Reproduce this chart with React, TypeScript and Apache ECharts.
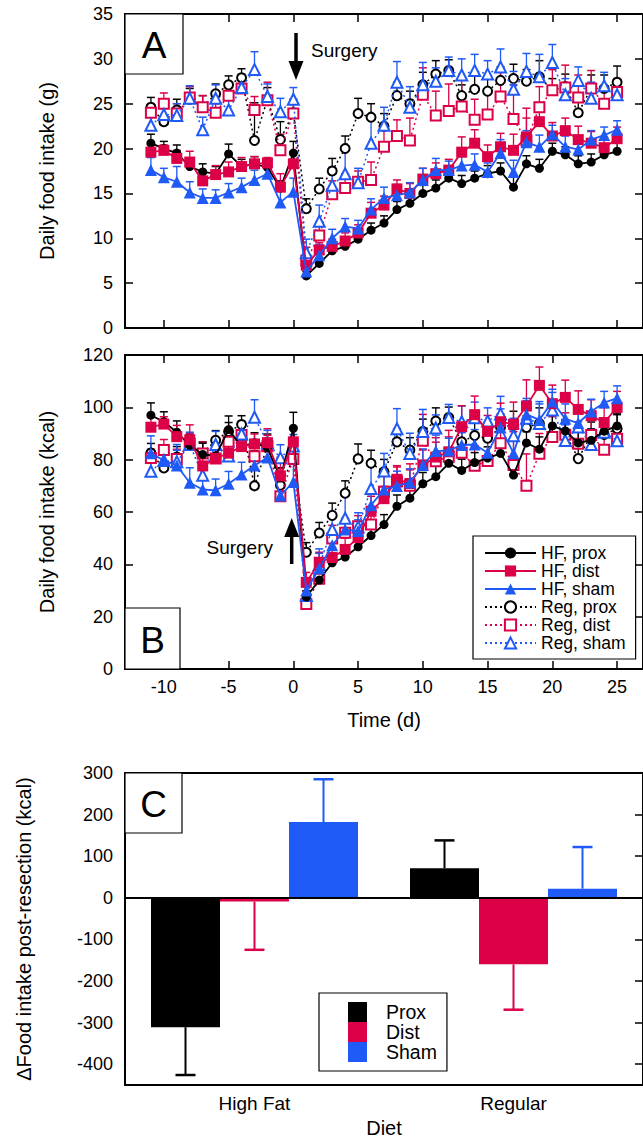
import React, { useEffect, useRef } from 'react';
import * as echarts from 'echarts';

const days = [-11,-10,-9,-8,-7,-6,-5,-4,-3,-2,-1,0,1,2,3,4,5,6,7,8,9,10,11,12,13,14,15,16,17,18,19,20,21,22,23,24,25];

// Panel A: daily intake (g)
const gHFprox = [20.6,20.0,19.5,18.0,17.4,17.2,19.4,18.0,18.3,17.9,15.6,19.5,5.8,7.2,8.6,9.1,9.9,10.9,11.7,13.2,13.9,15.0,15.6,16.7,16.1,16.7,17.2,17.5,15.7,18.3,17.8,19.7,19.3,18.3,18.5,19.3,19.7];
const gHFdist = [19.6,19.8,18.9,18.5,16.4,17.1,17.4,18.0,18.3,18.4,15.7,18.3,7.0,8.7,9.1,9.7,10.6,12.8,13.7,15.5,15.0,16.6,17.2,17.6,19.6,20.6,19.1,20.2,19.8,21.3,23.0,21.4,22.0,21.0,20.6,20.1,21.1];
const gHFsham = [17.6,16.8,16.3,15.1,14.5,14.5,15.1,15.7,16.5,17.2,14.0,15.2,6.3,8.1,10.0,11.3,11.1,13.2,14.5,14.8,15.1,16.5,17.6,17.6,18.1,18.2,17.4,19.5,17.4,20.7,20.2,21.6,20.2,19.9,21.0,21.5,22.1];
const gRegprox = [24.6,23.0,24.3,25.5,24.6,26.1,27.1,27.9,20.9,25.5,21.0,24.0,13.3,15.5,17.5,20.0,23.9,23.5,22.5,25.9,25.0,27.1,28.3,28.7,25.9,26.6,26.4,27.6,27.8,27.5,28.0,26.5,26.9,24.0,26.7,26.7,27.4];
const gRegdist = [24.0,25.0,23.9,25.7,24.6,24.0,25.9,26.7,24.3,25.4,19.8,23.9,7.5,10.3,14.9,15.6,16.3,16.5,20.2,21.4,20.9,26.0,23.7,24.2,24.7,23.2,23.8,25.8,23.3,20.9,24.6,26.5,26.8,25.7,26.7,25.0,26.3];
const gRegsham = [22.6,23.8,23.7,25.6,22.1,25.6,24.3,26.8,28.8,25.8,24.1,25.5,8.4,11.9,15.9,17.2,16.2,20.6,22.6,27.4,24.6,27.1,27.5,28.7,28.2,28.7,28.3,29.1,26.6,28.6,28.0,29.6,26.0,27.6,25.6,27.0,26.0];

const eHFprox_g = [1.0,0.8,0.9,0.8,0.9,0.8,1.1,0.8,0.8,0.6,0.8,1.3,0.5,0.6,0.6,0.7,0.7,0.8,0.8,0.9,0.8,0.9,0.9,0.9,0.9,0.8,0.9,0.9,1.2,0.9,1.0,0.9,0.9,0.9,0.9,0.9,0.9];
const eHFdist_g = [0.8,0.6,0.9,1.2,1.0,1.0,1.1,1.0,0.8,0.6,1.5,1.2,0.8,0.8,0.8,0.9,0.9,1.2,1.0,1.0,1.1,1.2,1.2,1.2,1.7,1.5,1.3,1.5,1.8,2.1,1.5,1.5,1.4,1.5,1.3,1.2,1.3];
const eHFsham_g = [1.4,1.0,1.7,1.2,1.0,0.9,1.0,1.0,1.1,1.0,1.6,1.5,0.8,1.2,1.0,0.9,0.9,1.2,1.2,1.2,1.1,1.3,1.3,1.0,1.0,1.2,1.0,1.5,1.3,1.3,1.3,1.0,1.2,1.0,1.0,0.9,1.0];
const eRegprox_g = [1.1,1.5,1.2,1.2,1.3,1.1,1.0,1.0,4.2,1.3,2.0,1.5,1.1,1.2,1.4,1.4,1.7,1.5,1.4,1.5,1.4,1.4,1.5,1.2,1.2,1.5,1.4,1.5,1.6,1.3,1.8,1.3,1.4,1.3,1.5,1.5,1.8];
const eRegdist_g = [1.0,1.2,1.1,1.2,1.3,1.0,1.3,1.4,1.5,2.0,1.8,1.2,1.5,1.5,1.5,1.6,1.2,2.0,2.0,1.8,2.5,3.0,2.7,3.0,3.0,2.3,2.6,3.0,3.8,3.6,2.3,2.3,2.5,2.5,2.0,1.5,1.5];
const eRegsham_g = [1.1,1.2,1.3,1.4,1.4,1.5,1.3,1.5,2.0,1.4,1.5,1.3,1.5,1.8,2.0,2.5,1.6,3.0,2.0,2.3,2.3,2.5,1.5,1.5,1.8,1.8,1.5,2.0,2.0,2.0,2.5,2.0,1.8,1.5,1.8,1.5,1.5];

// Panel B: daily intake (kcal)
const kHFprox = [97.0,94.5,90.5,85.5,82.0,81.5,91.5,85.0,86.5,84.5,73.0,92.0,27.5,34.0,40.6,42.8,46.7,51.0,55.2,62.2,65.3,70.8,73.5,78.6,75.9,78.9,80.6,82.4,74.1,86.4,84.0,92.9,91.0,86.4,87.4,90.9,92.9];
const kHFdist = [92.4,93.6,88.8,87.6,77.6,80.5,82.5,85.0,86.0,86.5,73.8,86.8,33.1,40.8,42.6,45.7,50.2,60.3,65.1,72.5,70.9,78.0,81.0,83.0,92.6,97.2,90.8,94.5,93.5,100.5,108.4,101.4,103.8,99.2,96.8,94.2,100.0];
const kHFsham = [82.5,79.7,77.8,71.2,68.6,68.3,70.8,74.3,77.8,80.8,66.3,71.5,30.0,38.5,47.3,53.3,52.7,62.6,68.6,69.9,71.3,78.0,83.3,83.5,85.6,85.8,82.6,92.3,82.5,97.3,95.2,102.2,95.6,94.0,98.4,101.8,103.5];
const kRegprox = [82.5,76.8,81.0,85.4,82.4,87.4,90.8,93.4,70.0,85.4,70.2,80.4,44.6,52.0,58.7,67.2,80.3,78.6,75.4,86.8,83.7,90.8,94.8,96.1,86.8,89.2,88.2,92.4,93.1,92.3,93.8,88.8,90.1,80.4,89.4,89.6,91.8];
const kRegdist = [80.6,83.7,80.3,86.1,82.4,80.4,86.8,89.4,81.3,85.1,66.0,80.3,24.8,34.5,49.9,52.1,54.6,55.2,67.7,71.7,70.0,87.2,79.4,81.1,82.6,77.7,79.5,86.3,78.0,70.0,82.3,88.7,89.5,86.1,89.4,83.8,88.0];
const kRegsham = [75.6,79.7,79.2,85.8,74.0,85.8,81.4,89.8,96.2,86.5,80.7,85.2,28.1,39.9,53.3,57.6,54.3,69.0,75.7,91.8,82.4,90.8,92.1,96.1,94.5,96.0,94.8,97.5,89.1,95.8,93.8,99.0,87.3,92.5,85.8,90.5,87.2];

const eHFprox_k = [4.7,3.8,4.3,3.8,4.3,3.8,5.2,3.8,3.8,2.8,3.8,6.1,2.4,2.8,2.8,3.3,3.3,3.8,3.8,4.3,3.8,4.3,4.3,4.3,4.3,3.8,4.3,4.3,5.7,4.3,4.7,4.3,4.3,4.3,4.3,4.3,4.3];
const eHFdist_k = [3.8,2.8,4.3,5.7,4.7,4.7,5.2,4.7,3.8,2.8,7.1,5.7,3.8,3.8,3.8,4.3,4.3,5.7,4.7,4.7,5.2,5.7,5.7,5.7,8.0,7.1,6.1,7.1,8.5,10.0,7.0,7.1,6.6,7.1,6.1,5.7,6.1];
const eHFsham_k = [6.6,4.7,8.0,5.7,4.7,4.3,4.7,4.7,5.2,4.7,7.6,7.1,3.8,5.7,4.7,4.3,4.3,5.7,5.7,5.7,5.2,6.1,6.1,4.7,4.7,5.7,4.7,7.1,6.1,6.1,6.1,4.7,5.7,4.7,4.7,4.3,4.7];
const eRegprox_k = [3.7,5.0,4.0,4.0,4.4,3.7,3.4,3.4,13.4,4.4,6.7,5.0,3.7,4.0,4.7,4.7,5.7,5.0,4.7,5.0,4.7,4.7,5.0,4.0,4.0,5.0,4.7,5.0,5.4,4.4,6.0,4.4,4.7,4.4,5.0,5.0,6.0];
const eRegdist_k = [3.4,4.0,3.7,4.0,4.4,3.4,4.4,4.7,5.0,6.7,6.0,4.0,5.0,5.0,5.0,5.4,4.0,6.7,6.7,6.0,8.4,10.1,9.0,10.1,10.1,7.7,8.7,10.1,12.7,12.2,7.7,7.7,8.4,8.4,6.7,5.0,5.0];
const eRegsham_k = [3.7,4.0,4.4,4.7,4.7,5.0,4.4,5.0,6.7,4.7,5.0,4.4,5.0,6.0,6.7,8.4,5.4,10.1,6.7,7.7,7.7,8.4,5.0,5.0,6.0,6.0,5.0,6.7,6.7,6.7,8.4,6.7,6.0,5.0,6.0,5.0,5.0];

const xTicks = [-10, -5, 0, 5, 10, 15, 20, 25];

// Panel C
const dietCats = ['High Fat', 'Regular'];
const cTicks = [-400, -300, -200, -100, 0, 100, 200, 300];
const barProx = [-311, 71];
const barDist = [-9, -160];
const barSham = [182, 22];
const errProx = [115, 67];
const errDist = [116, 109];
const errSham = [103, 100];

const BLACK = '#000000';
const RED = '#dc0046';
const BLUE = '#1f5af6';
const FONT = 'Liberation Sans';

const specs = [
  { name: 'Reg, prox', g: gRegprox, k: kRegprox, eg: eRegprox_g, ek: eRegprox_k, color: BLACK, symbol: 'emptyCircle', size: 9, dashed: true },
  { name: 'Reg, dist', g: gRegdist, k: kRegdist, eg: eRegdist_g, ek: eRegdist_k, color: RED, symbol: 'emptyRect', size: 10, dashed: true },
  { name: 'Reg, sham', g: gRegsham, k: kRegsham, eg: eRegsham_g, ek: eRegsham_k, color: BLUE, symbol: 'emptyTriangle', size: 11, dashed: true },
  { name: 'HF, prox', g: gHFprox, k: kHFprox, eg: eHFprox_g, ek: eHFprox_k, color: BLACK, symbol: 'circle', size: 9, dashed: false },
  { name: 'HF, dist', g: gHFdist, k: kHFdist, eg: eHFdist_g, ek: eHFdist_k, color: RED, symbol: 'rect', size: 11, dashed: false },
  { name: 'HF, sham', g: gHFsham, k: kHFsham, eg: eHFsham_g, ek: eHFsham_k, color: BLUE, symbol: 'triangle', size: 12, dashed: false },
];

function buildOption() {
  const series: any[] = [];
  [0, 1].forEach((gi) => {
    specs.forEach((s, si) => {
      const vals = gi === 0 ? s.g : s.k;
      const errs = gi === 0 ? s.eg : s.ek;
      const color = s.color;
      series.push({
        type: 'custom',
        name: 'err ' + s.name,
        xAxisIndex: gi * 2,
        yAxisIndex: gi * 2,
        silent: true,
        z: 2 + si * 0.01,
        encode: { x: 0, y: 1 },
        data: days.map((d, i) => [d, vals[i], errs[i]]),
        renderItem: (params: any, api: any) => {
          const p0 = api.coord([api.value(0), api.value(1)]);
          const p1 = api.coord([api.value(0), api.value(1) + api.value(2)]);
          return {
            type: 'group',
            children: [
              { type: 'line', shape: { x1: p0[0], y1: p0[1], x2: p1[0], y2: p1[1] }, style: { stroke: color, lineWidth: 1.3 } },
              { type: 'line', shape: { x1: p1[0] - 4, y1: p1[1], x2: p1[0] + 4, y2: p1[1] }, style: { stroke: color, lineWidth: 1.5 } },
            ],
          };
        },
      });
      series.push({
        type: 'line',
        name: s.name,
        xAxisIndex: gi * 2,
        yAxisIndex: gi * 2,
        data: days.map((d, i) => [d, vals[i]]),
        symbol: s.symbol,
        symbolSize: s.size,
        showSymbol: true,
        showAllSymbol: true,
        z: 3 + si * 0.1,
        lineStyle: { color, width: s.dashed ? 1.5 : 1.8, type: s.dashed ? [2, 3] : 'solid' },
        itemStyle: { color, borderColor: color, borderWidth: s.dashed ? 1.5 : 0 },
        emphasis: { disabled: true },
      });
    });
  });

  const bars = [
    { name: 'Prox', vals: barProx, errs: errProx, color: BLACK },
    { name: 'Dist', vals: barDist, errs: errDist, color: RED },
    { name: 'Sham', vals: barSham, errs: errSham, color: BLUE },
  ];
  bars.forEach((b, bi) => {
    series.push({
      type: 'bar',
      name: b.name,
      xAxisIndex: 4,
      yAxisIndex: 4,
      data: b.vals,
      barWidth: 69,
      barGap: '0%',
      itemStyle: { color: b.color },
      emphasis: { disabled: true },
      z: 2,
      markLine: bi === 0 ? {
        silent: true,
        symbol: 'none',
        label: { show: false },
        lineStyle: { color: '#000', width: 2, type: 'solid' },
        data: [{ yAxis: 0 }],
      } : undefined,
    });
    series.push({
      type: 'custom',
      name: 'err ' + b.name,
      xAxisIndex: 4,
      yAxisIndex: 4,
      silent: true,
      z: 1,
      data: dietCats.map((c, i) => [i, b.vals[i], b.errs[i]]),
      renderItem: (params: any, api: any) => {
        const i = api.value(0);
        const v = api.value(1);
        const e = api.value(2);
        const sign = v < 0 ? -1 : 1;
        const off = (bi - 1) * 69;
        const p0 = api.coord([i, v]);
        const p1 = api.coord([i, v + sign * e]);
        const x = p0[0] + off;
        return {
          type: 'group',
          children: [
            { type: 'line', shape: { x1: x, y1: p0[1], x2: x, y2: p1[1] }, style: { stroke: b.color, lineWidth: 2 } },
            { type: 'line', shape: { x1: x - 10, y1: p1[1], x2: x + 10, y2: p1[1] }, style: { stroke: b.color, lineWidth: 2.5 } },
          ],
        };
      },
    });
  });

  const axisLine = { show: true, onZero: false, lineStyle: { color: '#000', width: 2 } };
  const tickStyle = { color: '#000', width: 1.5 };
  const labelStyle = { color: '#000', fontSize: 18, fontFamily: FONT };
  const nameStyle = { color: '#000', fontSize: 20, fontFamily: FONT };

  const xValAxis = (gridIndex: number, position: string, labels: boolean, extra: any = {}) => ({
    type: 'value', gridIndex, min: -13, max: 27, position,
    axisLine, splitLine: { show: false },
    axisTick: { show: true, inside: true, length: 8, customValues: xTicks, lineStyle: tickStyle },
    axisLabel: labels ? { show: true, customValues: xTicks, margin: 9, ...labelStyle } : { show: false },
    ...extra,
  });
  const yValAxis = (gridIndex: number, position: string, max: number, interval: number, labels: boolean, extra: any = {}) => ({
    type: 'value', gridIndex, min: 0, max, interval, position,
    axisLine, splitLine: { show: false },
    axisTick: { show: true, inside: true, length: 8, lineStyle: tickStyle },
    axisLabel: labels ? { show: true, margin: 12, ...labelStyle } : { show: false },
    ...extra,
  });

  const option: any = {
    animation: false,
    backgroundColor: '#ffffff',
    textStyle: { fontFamily: FONT },
    grid: [
      { left: 125, top: 14, width: 524, height: 314 },
      { left: 125, top: 355, width: 524, height: 314 },
      { left: 125, top: 773, width: 524, height: 314 },
    ],
    xAxis: [
      xValAxis(0, 'bottom', false),
      xValAxis(0, 'top', false),
      xValAxis(1, 'bottom', true, { name: 'Time (d)', nameLocation: 'middle', nameGap: 41, nameTextStyle: nameStyle }),
      xValAxis(1, 'top', false),
      {
        type: 'category', gridIndex: 2, data: dietCats, position: 'bottom',
        axisLine, axisTick: { show: false },
        axisLabel: { show: true, margin: 9, ...labelStyle, fontSize: 19 },
        name: 'Diet', nameLocation: 'middle', nameGap: 33, nameTextStyle: nameStyle,
      },
      {
        type: 'category', gridIndex: 2, data: dietCats, position: 'top',
        axisLine, axisTick: { show: false }, axisLabel: { show: false },
      },
    ],
    yAxis: [
      yValAxis(0, 'left', 35, 5, true, { name: 'Daily food intake (g)', nameLocation: 'middle', nameGap: 68, nameTextStyle: nameStyle }),
      yValAxis(0, 'right', 35, 5, false),
      yValAxis(1, 'left', 120, 20, true, { name: 'Daily food intake (kcal)', nameLocation: 'middle', nameGap: 68, nameTextStyle: nameStyle }),
      yValAxis(1, 'right', 120, 20, false),
      {
        type: 'value', gridIndex: 2, min: -450, max: 300, position: 'left',
        axisLine, splitLine: { show: false },
        axisTick: { show: false },
        axisLabel: { show: true, customValues: cTicks, margin: 12, ...labelStyle },
        name: '\u0394Food intake post-resection (kcal)', nameLocation: 'middle', nameGap: 91, nameTextStyle: nameStyle,
      },
      {
        type: 'value', gridIndex: 2, min: -450, max: 300, position: 'right',
        axisLine, splitLine: { show: false },
        axisTick: { show: true, inside: true, length: 8, customValues: cTicks, lineStyle: tickStyle },
        axisLabel: { show: false },
      },
    ],
    legend: [
      {
        data: ['HF, prox', 'HF, dist', 'HF, sham', 'Reg, prox', 'Reg, dist', 'Reg, sham'],
        orient: 'vertical', left: 473, top: 536,
        padding: [8, 10, 7, 11],
        itemWidth: 51, itemHeight: 14, itemGap: 0,
        selectedMode: false,
        backgroundColor: '#fff', borderColor: '#000', borderWidth: 1.2,
        textStyle: { fontSize: 17.5, lineHeight: 17.4, color: '#000', fontFamily: FONT },
        z: 50,
      },
      {
        data: ['Prox', 'Dist', 'Sham'],
        orient: 'vertical', left: 319, top: 993,
        padding: [9, 10, 9, 29],
        itemWidth: 19, itemHeight: 20, itemGap: 0,
        icon: 'rect',
        selectedMode: false,
        backgroundColor: '#fff', borderColor: '#000', borderWidth: 1.2,
        textStyle: { fontSize: 19.5, color: '#000', fontFamily: FONT, padding: [0, 0, 0, 14] },
        z: 50,
      },
    ],
    graphic: [
      { type: 'rect', z: 100, shape: { x: 125, y: 14, width: 58, height: 60 }, style: { fill: '#fff', stroke: '#000', lineWidth: 1.2 } },
      { type: 'text', z: 101, x: 154, y: 45, style: { text: 'A', fontSize: 37, fontFamily: FONT, fill: '#000', align: 'center', verticalAlign: 'middle' } },
      { type: 'rect', z: 100, shape: { x: 125, y: 608, width: 55, height: 61 }, style: { fill: '#fff', stroke: '#000', lineWidth: 1.2 } },
      { type: 'text', z: 101, x: 152.5, y: 640, style: { text: 'B', fontSize: 37, fontFamily: FONT, fill: '#000', align: 'center', verticalAlign: 'middle' } },
      { type: 'rect', z: 100, shape: { x: 125, y: 773, width: 57, height: 60 }, style: { fill: '#fff', stroke: '#000', lineWidth: 1.2 } },
      { type: 'text', z: 101, x: 153.5, y: 804, style: { text: 'C', fontSize: 37, fontFamily: FONT, fill: '#000', align: 'center', verticalAlign: 'middle' } },
      // Surgery arrow A (down)
      { type: 'line', z: 100, shape: { x1: 296, y1: 33, x2: 296, y2: 64 }, style: { stroke: '#000', lineWidth: 3.5 } },
      { type: 'polygon', z: 100, shape: { points: [[288.5, 61], [303.5, 61], [296, 80]] }, style: { fill: '#000' } },
      { type: 'text', z: 101, x: 311, y: 50, style: { text: 'Surgery', fontSize: 19, fontFamily: FONT, fill: '#000', align: 'left', verticalAlign: 'middle' } },
      // Surgery arrow B (up)
      { type: 'line', z: 100, shape: { x1: 291.7, y1: 534, x2: 291.7, y2: 564 }, style: { stroke: '#000', lineWidth: 3.5 } },
      { type: 'polygon', z: 100, shape: { points: [[284.2, 537], [299.2, 537], [291.7, 518]] }, style: { fill: '#000' } },
      { type: 'text', z: 101, x: 273, y: 547, style: { text: 'Surgery', fontSize: 19, fontFamily: FONT, fill: '#000', align: 'right', verticalAlign: 'middle' } },
    ],
    series,
  };
  return option;
}

export default function App() {
  const ref = useRef<HTMLDivElement>(null);
  useEffect(() => {
    if (!ref.current) return;
    const chart = echarts.init(ref.current, null, { renderer: 'svg' });
    chart.setOption(buildOption());
    return () => chart.dispose();
  }, []);
  return (
    <div
      ref={ref}
      style={{ position: 'absolute', left: 0, top: 0, width: 643, height: 1139, background: '#fff' }}
    />
  );
}
